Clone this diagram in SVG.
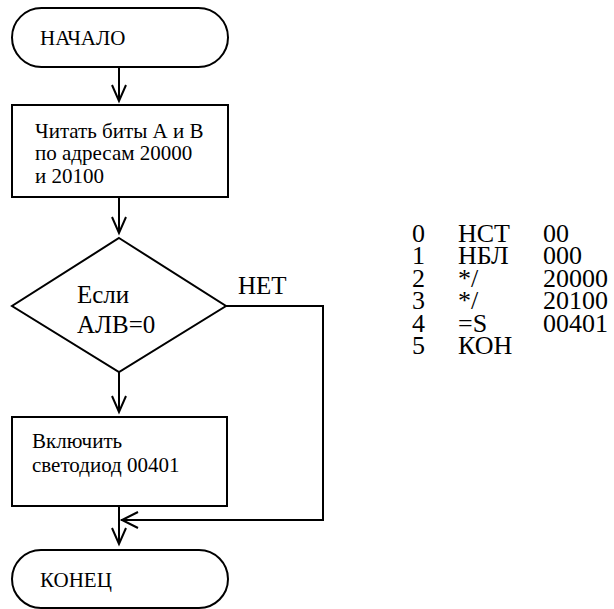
<svg xmlns="http://www.w3.org/2000/svg" width="614" height="609" viewBox="0 0 614 609">
  <g id="connectors" fill="none" stroke="#000" stroke-width="2">
    <line x1="119" y1="67" x2="119" y2="101"/>
    <polyline points="112,85 119,101 126,85"/>
    <line x1="119" y1="197" x2="119" y2="233"/>
    <polyline points="112,217 119,233 126,217"/>
    <line x1="119" y1="372" x2="119" y2="412"/>
    <polyline points="112,396 119,412 126,396"/>
    <line x1="119" y1="506" x2="119" y2="544"/>
    <polyline points="112,528 119,544 126,528"/>
    <polyline points="226,306 323,306 323,520 121,520"/>
    <polyline points="138,512 122,520 138,528"/>
  </g>
  <text x="238" y="294" font-family="Liberation Serif" font-size="25">НЕТ</text>
  <g id="start">
    <rect x="12" y="8" width="216" height="59" rx="29.5" ry="29.5" fill="#fff" stroke="#000" stroke-width="2"/>
    <text x="40" y="45" font-family="Liberation Serif" font-size="21">НАЧАЛО</text>
  </g>
  <g id="read">
    <rect x="12" y="105" width="216" height="92" fill="#fff" stroke="#000" stroke-width="2"/>
    <text x="35" y="138" font-family="Liberation Serif" font-size="21">Читать биты А и В</text>
    <text x="35" y="160" font-family="Liberation Serif" font-size="21">по адресам 20000</text>
    <text x="35" y="183" font-family="Liberation Serif" font-size="21">и 20100</text>
  </g>
  <g id="decision">
    <polygon points="119,238 226,306 119,372 12,306" fill="#fff" stroke="#000" stroke-width="2"/>
    <text x="77" y="303" font-family="Liberation Serif" font-size="25">Если</text>
    <text x="77" y="333" font-family="Liberation Serif" font-size="25">АЛВ=0</text>
  </g>
  <g id="led">
    <rect x="12" y="417" width="215" height="89" fill="#fff" stroke="#000" stroke-width="2"/>
    <text x="32" y="448" font-family="Liberation Serif" font-size="21">Включить</text>
    <text x="32" y="472" font-family="Liberation Serif" font-size="21">светодиод 00401</text>
  </g>
  <g id="end">
    <rect x="12" y="550" width="216" height="58" rx="29" ry="29" fill="#fff" stroke="#000" stroke-width="2"/>
    <text x="40" y="587" font-family="Liberation Serif" font-size="21">КОНЕЦ</text>
  </g>
  <g id="listing" font-family="Liberation Serif" font-size="26">
    <text x="412" y="242">0</text>
    <text x="458" y="242">НСТ</text>
    <text x="543" y="242">00</text>
    <text x="412" y="264">1</text>
    <text x="458" y="264">НБЛ</text>
    <text x="543" y="264">000</text>
    <text x="412" y="287">2</text>
    <text x="458" y="287">*/</text>
    <text x="543" y="287">20000</text>
    <text x="412" y="309">3</text>
    <text x="458" y="309">*/</text>
    <text x="543" y="309">20100</text>
    <text x="412" y="332">4</text>
    <text x="458" y="332">=S</text>
    <text x="543" y="332">00401</text>
    <text x="412" y="354">5</text>
    <text x="458" y="354">КОН</text>
  </g>
</svg>
